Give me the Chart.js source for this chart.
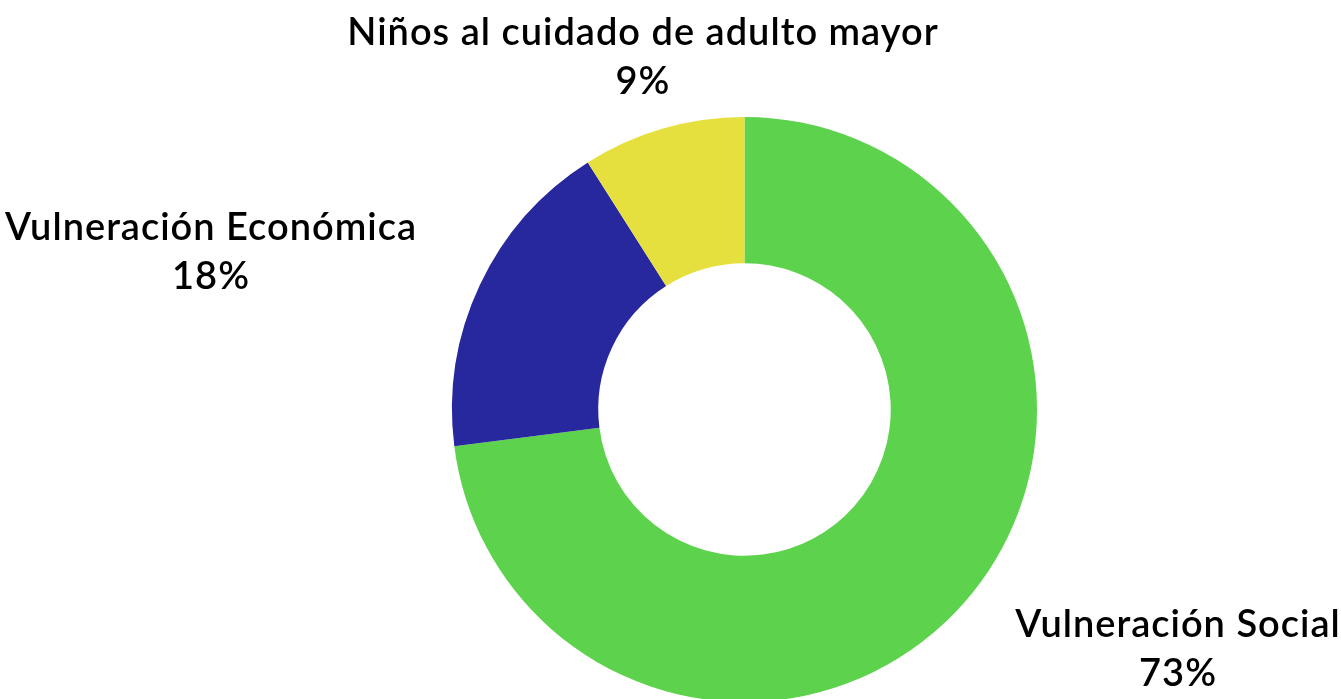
<!DOCTYPE html>
<html>
<head>
<meta charset="utf-8">
<script src="https://cdn.jsdelivr.net/npm/chart.js@4/dist/chart.umd.min.js"></script>
<style>
  html, body { margin: 0; padding: 0; background: #ffffff; overflow: hidden; }
  #wrap { width: 1341px; height: 720px; }
</style>
</head>
<body>
<div id="wrap"><canvas id="donutChart" width="1341" height="720"></canvas></div>
<script>
// data
const categories = ['Vulneración Social', 'Vulneración Económica', 'Niños al cuidado de adulto mayor'];
const shares = [73, 18, 9];
const sliceColors = ['#5dd24c', '#27279e', '#e6e03e'];

// where each label block is centred (x, y of first line)
const labelSpots = [
  { x: 1178, y: 625 },
  { x: 211, y: 228 },
  { x: 643, y: 33 }
];

const outsideLabels = {
  id: 'outsideLabels',
  afterDraw(chart) {
    const ctx = chart.ctx;
    ctx.save();
    ctx.fillStyle = '#000000';
    ctx.font = '600 38px Lato, "Noto Sans", sans-serif';
    ctx.letterSpacing = '1px';
    ctx.textAlign = 'center';
    ctx.textBaseline = 'middle';
    chart.data.labels.forEach((label, i) => {
      const spot = labelSpots[i];
      const value = chart.data.datasets[0].data[i];
      ctx.fillText(label, spot.x, spot.y);
      ctx.fillText(value + '%', spot.x, spot.y + 49);
    });
    ctx.restore();
  }
};

const ctx = document.getElementById('donutChart').getContext('2d');
new Chart(ctx, {
  type: 'doughnut',
  data: {
    labels: categories,
    datasets: [{
      data: shares,
      backgroundColor: sliceColors,
      borderWidth: 0
    }]
  },
  options: {
    responsive: false,
    animation: false,
    cutout: '50%',
    layout: {
      padding: { top: 117, bottom: 18, left: 452, right: 304 }
    },
    plugins: {
      legend: { display: false },
      tooltip: { enabled: false }
    }
  },
  plugins: [outsideLabels]
});
</script>
</body>
</html>
